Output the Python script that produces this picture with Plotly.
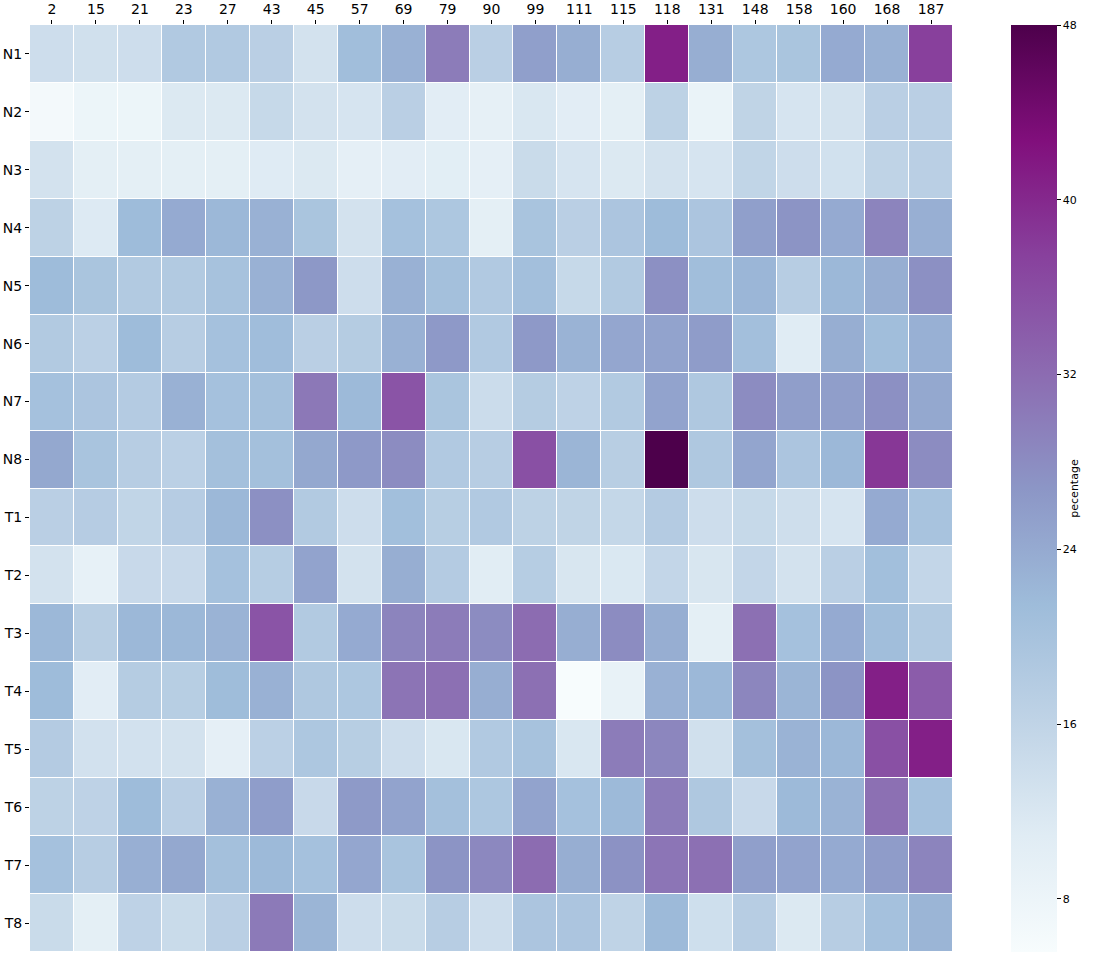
import plotly.graph_objects as go

# column labels (top) and row labels (left)
cols = ["2", "15", "21", "23", "27", "43", "45", "57", "69", "79", "90",
        "99", "111", "115", "118", "131", "148", "158", "160", "168", "187"]
rows = ["N1", "N2", "N3", "N4", "N5", "N6", "N7", "N8",
        "T1", "T2", "T3", "T4", "T5", "T6", "T7", "T8"]

# percentage values
N1 = [14, 13.5, 14, 18.5, 18.5, 17, 13, 21, 23, 30, 17, 25.5, 23.5, 17.5, 41, 23.5, 19, 19.5, 24, 23, 37.5]
N2 = [6.5, 8, 8, 11.5, 11.5, 15, 13, 12.5, 17, 10.5, 9.5, 12, 10.5, 10, 16.5, 8.5, 16, 12.5, 13, 17, 17]
N3 = [13, 10, 10, 10, 10, 11, 11.5, 9.8, 10.5, 10.3, 9.8, 14.5, 12.5, 11.5, 13, 12.5, 15.8, 14, 13.3, 16.2, 17]
N4 = [16.5, 11.3, 21.5, 24, 22, 23, 19.5, 13, 20.3, 19, 10, 19.7, 17, 19.3, 21.5, 19.3, 25.5, 27, 24, 29, 23.3]
N5 = [21.5, 19.5, 18.3, 18.3, 20, 23, 26.5, 14, 23, 20.5, 18.5, 20.7, 15, 18.3, 27.5, 21, 22.3, 17.5, 22, 23.5, 27.5]
N6 = [18.3, 16.8, 21.5, 17.5, 20.3, 21.2, 17, 17.8, 23, 26.3, 18.5, 26.3, 22.8, 24.5, 25, 26, 20.7, 10.8, 23.5, 21, 23.2]
N7 = [20.3, 19.3, 18, 23, 20.3, 20.5, 30.5, 21.8, 35, 19.5, 14.3, 17.8, 16.3, 18.3, 25, 18.7, 28, 25.7, 25.7, 27.5, 24.3]
N8 = [24.3, 19.7, 17.5, 16.8, 20.5, 20.5, 24.3, 26.3, 28, 18.5, 17.5, 35.5, 22.5, 17.3, 48, 18.7, 24.7, 19.3, 22, 38.5, 28]
T1 = [17, 17.7, 15.8, 17.7, 22, 27.5, 18.3, 14, 20.8, 17.4, 18.5, 16.5, 16, 15.3, 18, 14, 15, 13.8, 12.5, 24, 19.8]
T2 = [13, 9.3, 14.8, 14.8, 20.3, 17.6, 25, 13, 23.5, 18, 10.7, 17.6, 12.2, 11.8, 15.5, 12.2, 15.5, 13, 17, 20.8, 15.5]
T3 = [22, 17.3, 22, 22, 22.8, 35, 18.3, 24, 29, 30, 28, 32, 23.5, 28, 23.5, 10, 31.5, 20.3, 24, 21, 18.3]
T4 = [21.5, 10.5, 17.8, 17.4, 21.3, 23, 18.7, 19, 31, 31.5, 23.5, 31.5, 5.6, 9, 23, 22, 28.7, 22.5, 27, 41, 34]
T5 = [18, 13.2, 13.2, 13, 9.8, 16.8, 19, 17.4, 14, 12, 18.5, 20, 12, 30, 28.8, 13.5, 20.5, 22.7, 22, 35.5, 41]
T6 = [16.5, 16.3, 21.5, 17, 23, 25.8, 14.8, 26.2, 25, 20.5, 19, 25, 20.3, 21.8, 30, 18.7, 14.8, 21.7, 22.8, 31.5, 20.3]
T7 = [20.3, 17.5, 23.3, 24.3, 20.5, 21.8, 20.3, 24.5, 19.7, 27, 28.5, 32, 23.5, 27.3, 30.8, 31.5, 25.5, 25, 24, 26, 29]
T8 = [14.5, 10, 16.3, 14.5, 17, 30.3, 22.5, 14, 14.5, 17.5, 14, 19.3, 19.3, 16.2, 21.8, 13.7, 17.5, 11.5, 17.5, 20.3, 22.5]

z = [N1, N2, N3, N4, N5, N6, N7, N8, T1, T2, T3, T4, T5, T6, T7, T8]

cbar_ticks = [8, 16, 24, 32, 40, 48]

fig = go.Figure()

fig.add_trace(go.Heatmap(
    z=z, x=cols, y=rows,
    colorscale="BuPu",
    zmin=5.57, zmax=48,
    xgap=1, ygap=1,
    colorbar=dict(
        x=1.0628, xanchor="left", xpad=0,
        y=0.5, yanchor="middle", ypad=0,
        len=1, lenmode="fraction",
        thickness=46,
        outlinewidth=0,
        tickvals=cbar_ticks,
        ticks="outside", ticklen=4, tickcolor="black",
        tickfont=dict(size=11, color="black"),
        title=dict(text="pecentage", side="right",
                   font=dict(size=11, color="black")),
    ),
    hovertemplate="%{y} / %{x}: %{z}<extra></extra>",
))

fig.update_xaxes(
    side="top", type="category", automargin=False,
    ticks="outside", ticklen=4, tickcolor="black",
    tickfont=dict(size=14, color="black"),
    showgrid=False, zeroline=False,
)
fig.update_yaxes(
    autorange="reversed", type="category", automargin=False,
    ticks="outside", ticklen=4, tickcolor="black",
    tickfont=dict(size=14, color="black"),
    showgrid=False, zeroline=False,
)

fig.update_layout(
    width=1094, height=956,
    margin=dict(l=30, r=141, t=25, b=4, autoexpand=False),
    plot_bgcolor="white", paper_bgcolor="white",
    font=dict(family="DejaVu Sans", color="black"),
)

# drop the browser's default 8px body margin so the figure fills the window
fig.write_html("out.html", config={"displayModeBar": False},
               post_script="document.body.style.margin='0';")
